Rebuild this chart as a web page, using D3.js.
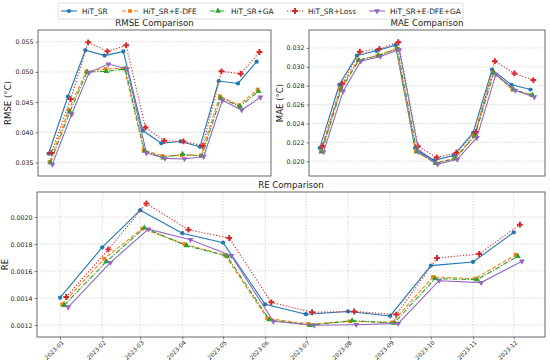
<!DOCTYPE html>
<html>
<head>
<meta charset="utf-8">
<script src="https://cdn.jsdelivr.net/npm/d3@7"></script>
<style>
  body { margin: 0; background: #fff; }
  svg { font-family: "DejaVu Sans", sans-serif; }
</style>
</head>
<body>
<div id="chart"></div>
<script>
// months and series names
var months = ["2023-01", "2023-02", "2023-03", "2023-04", "2023-05", "2023-06",
              "2023-07", "2023-08", "2023-09", "2023-10", "2023-11", "2023-12"];
var seriesNames = ["HiT_SR", "HiT_SR+E-DFE", "HiT_SR+GA", "HiT_SR+Loss", "HiT_SR+E-DFE+GA"];

// RMSE values
var rmseHiT    = [0.0365, 0.0459, 0.0536, 0.0527, 0.0534, 0.0403, 0.0382, 0.0385, 0.0376, 0.0485, 0.0481, 0.0517];
var rmseEDFE   = [0.0351, 0.0437, 0.0501, 0.0505, 0.0506, 0.0371, 0.0361, 0.0362, 0.0362, 0.0460, 0.0445, 0.0471];
var rmseGA     = [0.0350, 0.0434, 0.0500, 0.0501, 0.0505, 0.0369, 0.0358, 0.0364, 0.0361, 0.0457, 0.0443, 0.0468];
var rmseLoss   = [0.0366, 0.0455, 0.0549, 0.0534, 0.0544, 0.0408, 0.0386, 0.0385, 0.0378, 0.0501, 0.0497, 0.0533];
var rmseEDFEGA = [0.0347, 0.0430, 0.0499, 0.0513, 0.0505, 0.0366, 0.0357, 0.0356, 0.0360, 0.0453, 0.0437, 0.0458];

// MAE values
var maeHiT    = [0.0214, 0.0281, 0.0312, 0.0317, 0.0323, 0.0214, 0.0201, 0.0206, 0.0230, 0.0297, 0.0281, 0.0276];
var maeEDFE   = [0.0211, 0.0277, 0.0307, 0.0312, 0.0319, 0.0211, 0.0198, 0.0203, 0.0227, 0.0294, 0.0276, 0.0270];
var maeGA     = [0.0210, 0.0276, 0.0307, 0.0312, 0.0319, 0.0210, 0.0198, 0.0203, 0.0227, 0.0294, 0.0276, 0.0270];
var maeLoss   = [0.0216, 0.0282, 0.0316, 0.0319, 0.0326, 0.0216, 0.0204, 0.0209, 0.0231, 0.0306, 0.0293, 0.0286];
var maeEDFEGA = [0.0210, 0.0274, 0.0306, 0.0311, 0.0318, 0.0210, 0.0197, 0.0202, 0.0225, 0.0292, 0.0275, 0.0268];

// RE values
var reHiT    = [0.001402, 0.001775, 0.002050, 0.001880, 0.001810, 0.001353, 0.001280, 0.001300, 0.001267, 0.001640, 0.001667, 0.001886];
var reEDFE   = [0.001353, 0.001691, 0.001914, 0.001800, 0.001716, 0.001250, 0.001207, 0.001227, 0.001220, 0.001556, 0.001543, 0.001720];
var reGA     = [0.001346, 0.001669, 0.001919, 0.001788, 0.001710, 0.001240, 0.001198, 0.001232, 0.001215, 0.001543, 0.001536, 0.001709];
var reLoss   = [0.001407, 0.001760, 0.002100, 0.001906, 0.001844, 0.001368, 0.001294, 0.001300, 0.001277, 0.001696, 0.001726, 0.001943];
var reEDFEGA = [0.001333, 0.001662, 0.001910, 0.001832, 0.001713, 0.001227, 0.001198, 0.001202, 0.001212, 0.001528, 0.001514, 0.001672];

var colors = ["#1f77b4", "#ff7f0e", "#2ca02c", "#d62728", "#9467bd"];
var dashes = [null, "4,2", "5,1.5,1.2,1.5", "1.2,1.8", null];
var symbols = [d3.symbolCircle, d3.symbolSquare, d3.symbolTriangle, d3.symbolCross, d3.symbolTriangle];
var symSizes = [14, 14, 15, 19, 15];
var symRotate = [0, 0, 0, 0, 180];

var svgWidth = 550;
var svgHeight = 363;

var svg = d3.select("#chart")
  .append("svg")
  .attr("width", svgWidth)
  .attr("height", svgHeight);

var parseMonth = d3.timeParse("%Y-%m");
var monthDates = months.map(parseMonth);
var dayMs = 86400000;
var offsetDays = 1.5;

// padded time domain like matplotlib's 5% margin
var t0 = monthDates[0].getTime();
var t1 = monthDates[11].getTime() + 4 * offsetDays * dayMs;
var pad = (t1 - t0) * 0.05;
var xDomain = [new Date(t0 - pad), new Date(t1 + pad)];

function drawPanel(p) {
  var g = svg.append("g").attr("transform", `translate(${p.left}, ${p.top})`);
  var w = p.width, h = p.height;

  var x = d3.scaleTime().domain(xDomain).range([0, w]);
  var y = d3.scaleLinear().domain(p.yDomain).range([h, 0]);

  // grid
  g.append("g").selectAll("line")
    .data(p.yTicks)
    .enter()
    .append("line")
    .attr("x1", 0).attr("x2", w)
    .attr("y1", d => y(d)).attr("y2", d => y(d))
    .attr("stroke", "#c8c8c8")
    .attr("stroke-width", 0.7)
    .attr("stroke-dasharray", "1.5,1.5");

  if (p.xGrid) {
    g.append("g").selectAll("line")
      .data(monthDates)
      .enter()
      .append("line")
      .attr("x1", d => x(d)).attr("x2", d => x(d))
      .attr("y1", 0).attr("y2", h)
      .attr("stroke", "#c8c8c8")
      .attr("stroke-width", 0.7)
      .attr("stroke-dasharray", "1.5,1.5");
  }

  // y axis
  var yAxis = g.append("g")
    .call(d3.axisLeft(y).tickValues(p.yTicks).tickFormat(d3.format(p.yFormat)).tickSize(2.5).tickPadding(2));
  yAxis.attr("font-family", "DejaVu Sans").attr("font-size", "6.3px");
  yAxis.select(".domain").remove();
  yAxis.selectAll(".tick line").attr("stroke", "#333").attr("stroke-width", 0.6);
  yAxis.selectAll("text").attr("fill", "#222");

  if (p.xLabels) {
    var xAxis = g.append("g")
      .attr("transform", `translate(0, ${h})`)
      .call(d3.axisBottom(x).tickValues(monthDates).tickFormat(d3.timeFormat("%Y-%m")).tickSize(2.5).tickPadding(2));
    xAxis.attr("font-family", "DejaVu Sans").attr("font-size", "5.8px");
    xAxis.select(".domain").remove();
    xAxis.selectAll(".tick line").attr("stroke", "#333").attr("stroke-width", 0.6);
    xAxis.selectAll("text")
      .attr("fill", "#222")
      .attr("text-anchor", "end")
      .attr("dx", "-0.3em")
      .attr("dy", "0.4em")
      .attr("transform", "rotate(-45)");
  }

  // series
  p.series.forEach(function(vals, i) {
    var pts = vals.map(function(v, j) {
      return { date: new Date(monthDates[j].getTime() + i * offsetDays * dayMs), value: v };
    });
    var line = d3.line().x(d => x(d.date)).y(d => y(d.value));
    g.append("path")
      .datum(pts)
      .attr("fill", "none")
      .attr("stroke", colors[i])
      .attr("stroke-width", 1.1)
      .attr("stroke-dasharray", dashes[i])
      .attr("d", line);
    g.selectAll(null)
      .data(pts)
      .enter()
      .append("path")
      .attr("d", d3.symbol().type(symbols[i]).size(symSizes[i]))
      .attr("transform", d => `translate(${x(d.date)}, ${y(d.value)}) rotate(${symRotate[i]})`)
      .attr("fill", colors[i]);
  });

  // frame
  g.append("rect")
    .attr("width", w).attr("height", h)
    .attr("fill", "none")
    .attr("stroke", "#444")
    .attr("stroke-width", 0.8);

  // title
  g.append("text")
    .attr("x", w / 2).attr("y", -4)
    .attr("text-anchor", "middle")
    .attr("font-size", "8.6px")
    .attr("fill", "#222")
    .text(p.title);

  // y label
  g.append("text")
    .attr("transform", "rotate(-90)")
    .attr("x", -h / 2)
    .attr("y", p.yLabelX)
    .attr("text-anchor", "middle")
    .attr("font-size", "8.6px")
    .attr("fill", "#222")
    .text(p.yLabel);
}

drawPanel({
  left: 38, top: 30, width: 233, height: 146,
  yDomain: [0.03278, 0.05694],
  yTicks: [0.035, 0.040, 0.045, 0.050, 0.055],
  yFormat: ".3f",
  title: "RMSE Comparison",
  yLabel: "RMSE (°C)", yLabelX: -27,
  series: [rmseHiT, rmseEDFE, rmseGA, rmseLoss, rmseEDFEGA]
});

drawPanel({
  left: 309, top: 30, width: 236, height: 146,
  yDomain: [0.01844, 0.0339],
  yTicks: [0.020, 0.022, 0.024, 0.026, 0.028, 0.030, 0.032],
  yFormat: ".3f",
  title: "MAE Comparison",
  yLabel: "MAE (°C)", yLabelX: -26,
  series: [maeHiT, maeEDFE, maeGA, maeLoss, maeEDFEGA]
});

drawPanel({
  left: 37, top: 192, width: 508, height: 145,
  yDomain: [0.001111, 0.002185],
  yTicks: [0.0012, 0.0014, 0.0016, 0.0018, 0.0020],
  yFormat: ".4f",
  title: "RE Comparison",
  yLabel: "RE", yLabelX: -29,
  xLabels: true, xGrid: true,
  series: [reHiT, reEDFE, reGA, reLoss, reEDFEGA]
});

// legend
var legendX = [61, 122, 210, 287, 369];
var legend = svg.append("g");
legend.append("rect")
  .attr("x", 58).attr("y", 3)
  .attr("width", 405).attr("height", 16)
  .attr("rx", 2)
  .attr("fill", "#fff")
  .attr("stroke", "#d0d0d0")
  .attr("stroke-width", 0.7);

seriesNames.forEach(function(name, i) {
  var lg = legend.append("g").attr("transform", `translate(${legendX[i]}, 11)`);
  lg.append("line")
    .attr("x1", 0).attr("x2", 16)
    .attr("stroke", colors[i])
    .attr("stroke-width", 1.1)
    .attr("stroke-dasharray", dashes[i]);
  lg.append("path")
    .attr("d", d3.symbol().type(symbols[i]).size(symSizes[i]))
    .attr("transform", `translate(8, 0) rotate(${symRotate[i]})`)
    .attr("fill", colors[i]);
  lg.append("text")
    .attr("x", 21).attr("y", 2.6)
    .attr("font-size", "7.4px")
    .attr("fill", "#222")
    .text(name);
});
</script>
</body>
</html>
